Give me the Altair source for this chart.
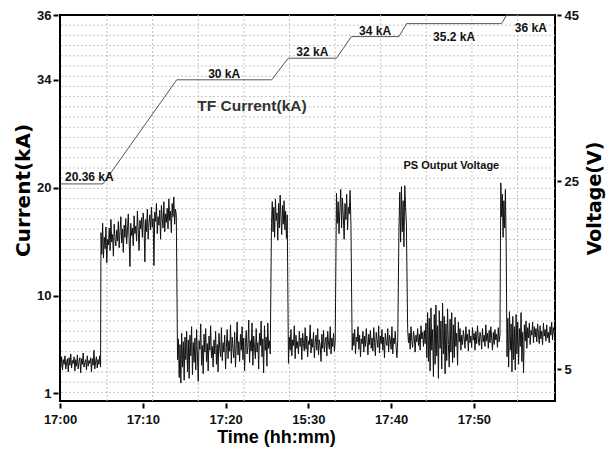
import altair as alt
import pandas as pd
import numpy as np

# ---------------- data ----------------
# time in minutes after 17:00
xtick_values = [0, 10, 20, 30, 40, 50]
xtick_labels = ["17:00", "17:10", "17:20", "15:30", "17:40", "17:50"]
ytick_values = [1, 10, 20, 30, 36]
ytick_labels = ["1", "10", "20", "34", "36"]
vtick_values = [5, 25, 45]

# TF current staircase (kA)
tf_time = [0.0, 5.19, 14.1, 25.57, 27.57, 33.4, 35.2, 40.94, 41.87, 53.35, 53.95, 59.8]
tf_current = [20.36, 20.36, 30, 30, 32, 32, 34, 34, 35.2, 35.2, 36, 36]
tf_label_text = ["20.36 kA", "30 kA", "32 kA", "34 kA", "35.2 kA", "36 kA"]
tf_label_side = ["first", "above", "above", "above", "below", "below"]

# PS output voltage, sampled segments (values in 0.1 V)
seg_A = [58,52,63,49,60,55,64,50,57,61,47,62,54,66,51,59,56,63,48,60,53,65,50,58,62,46,61,55,67,52,
         57,60,49,64,53,59,56,62,47,61,54,70,50,58,63,51,60,55,64,52]
seg_B = [195,172,205,168,190,178,201,163,188,182,
         200,176,209,185,193,170,204,188,181,198,
         186,207,179,196,212,184,199,174,203,190,
         210,183,197,215,188,159,205,192,200,181,
         213,194,202,186,218,197,176,208,199,211,
         190,216,203,164,209,196,220,188,205,214,
         198,222,201,210,160,217,207,226,194,212,
         203,219,188,224,210,200,228,196,215,206,
         221,199,231,208,218,195,226,212,233,204,220,214]
seg_C = [60,82,41,76,35,88,52,79,38,84,60,
         90,47,81,40,86,64,95,44,78,57,83,
         49,92,66,37,80,71,98,54,75,45,87,
         68,93,58,77,48,85,70,96,62,74,52,
         81,66,90,55,76,47,88,72,63,94,59,
         78,68,86,50,73,92,61,80,69,97,56,
         84,71,62,89,52,76,100,65,79,58,87,
         70,95,60,83,48,77,91,66,74,102,57,
         80,69,99,54,85,73,61,93,68,78,50,
         88,75,101,63,82,46,96,70,84,53,99,72,80,66]
seg_D = [205,228,196,222,190,231,208,216,187,226,200,235,211,193,224,204,229,198,218,189,214]
seg_E = [56,84,70,92,64,81,75,96,61,86,72,79,66,90,74,83,60,88,77,69,
         94,71,85,63,80,76,97,67,82,73,89,62,78,86,70,93,65,81,75,58,
         87,72,91,68,79,84,64,90,76,71,95,66,83,74,88,69,80]
seg_F = [237,205,228,194,219,241,200,232,213,188,226,209,236,198,222,215,240,203]
seg_G = [70,88,75,92,66,84,79,95,71,86,63,82,77,90,68,85,74,93,80,65,
         87,76,91,72,83,69,94,78,64,89,81,73,96,67,85,77,92,70,84,62,
         88,79,75,93,68,86,81,71,95,66,83,77,90,74,62,80]
seg_H = [200,238,185,244,196,229,180,245,222,203]
seg_I = [92,78,88,71,95,80,73,90,84,68,86,
         79,93,75,87,70,96,82,89,74,91,77,
         99,62,110,58,104,48,115,70,92,42,108,
         55,118,64,96,40,112,72,101,50,120,66,
         106,45,98,59,114,76,52,103,68,110,57,
         97,62,105,74,88,54,100,79,93,70,86,
         76,91,83,72,95,80,87,69,92,78,85,
         73,94,81,88,70,90,77,96,82,75,89,
         84,71,93,79,86,74,97,80,88,72,91,
         78,95,83,70,89,76,92,81,87,73,94,79,86]
seg_J = [248,212,236,190,229,200,241,184]
seg_K = [63,104,52,111,70,98,47,106,60,95,49,
         108,66,100,55,93,74,110,58,89,46,97,
         80,101,72,94,83,99,76,91,86,100,78,95,
         84,93,79,98,87,77,96,82,90,76,99,85,
         92,80,97,83,89,78,95,86,100,81,94,88]

seg_start = [0.0, 4.95, 14.2, 25.55, 27.6, 33.4, 35.3, 40.95, 42.0, 53.25, 54.0]
seg_end = [4.9, 14.05, 25.4, 27.45, 33.25, 35.15, 40.8, 41.85, 53.15, 53.9, 59.7]
seg_values = [seg_A, seg_B, seg_C, seg_D, seg_E, seg_F, seg_G, seg_H, seg_I, seg_J, seg_K]

# ---------------- tables ----------------
v_time, v_val = [], []
for s, e, vals in zip(seg_start, seg_end, seg_values):
    v_time.extend(np.linspace(s, e, len(vals)).tolist())
    v_val.extend([v / 10.0 for v in vals])
volt_df = pd.DataFrame({"time": v_time, "volt": v_val})

tf_df = pd.DataFrame({"time": tf_time, "current": tf_current})
lab_df = pd.DataFrame({
    "start": tf_time[0::2], "end": tf_time[1::2], "level": tf_current[0::2],
    "text": tf_label_text, "side": tf_label_side,
})
note_df = pd.DataFrame({"text": ["TF Current(kA)"], "time": [23.19], "current": [27.57]})
ps_df = pd.DataFrame({"text": ["PS Output Voltage"], "time": [47.28], "volt": [26.8]})

hgrid_df = pd.DataFrame({"g": [36 - 0.9444 * k for k in range(1, 38)]})
vgrid_df = pd.DataFrame({"g": [5.68 + 5.51 * k for k in range(10)]})


def label_expr(values, labels):
    parts = [f"datum.value == {v} ? '{l}'" for v, l in zip(values, labels)]
    return " : ".join(parts) + " : ''"


W, H = 495, 386
xscale = alt.Scale(domain=[0, 59.8], nice=False, zero=False)
lscale = alt.Scale(domain=[0.26, 36], nice=False, zero=False)
vscale = alt.Scale(domain=[1.6, 5, 25, 45], range=[386, 354, 166, 0], nice=False, zero=False)

BOLD = "Liberation Sans"

x_axis = alt.Axis(
    values=xtick_values, labelExpr=label_expr(xtick_values, xtick_labels), orient="bottom",
    title="Time (hh:mm)", grid=False, domain=False, tickColor="black", tickWidth=2,
    tickSize=5, offset=2, labelPadding=5, labelFont=BOLD, labelFontWeight="bold",
    labelFontSize=13, labelColor="#111", labelFlush=False,
    titleFont=BOLD, titleFontSize=18, titleFontWeight="bold", titleColor="#000",
    titleX=216, titleY=34, titleBaseline="middle", titleAlign="center",
)
l_axis = alt.Axis(
    values=ytick_values, labelExpr=label_expr(ytick_values, ytick_labels), orient="left",
    title="Current(kA)", grid=False, domain=False, tickColor="black", tickWidth=2,
    tickSize=5, offset=2, labelPadding=2, labelFont=BOLD, labelFontWeight="bold",
    labelFontSize=13, labelColor="#111", labelFlush=False,
    titleFont="DejaVu Sans", titleFontSize=20, titleFontWeight="bold", titleColor="#000",
    titleAngle=270, titleX=-35, titleY=175, titleBaseline="middle", titleAlign="center",
)
r_axis = alt.Axis(
    values=vtick_values, orient="right",
    title="Voltage(V)", grid=False, domain=False, tickColor="black", tickWidth=2,
    tickSize=4, offset=2, labelPadding=3, labelFont=BOLD, labelFontWeight="bold",
    labelFontSize=13, labelColor="#111", labelFlush=False,
    titleFont="DejaVu Sans", titleFontSize=19, titleFontWeight="bold", titleColor="#000",
    titleAngle=270, titleX=37, titleY=183, titleBaseline="middle", titleAlign="center",
)

X = lambda f: alt.X(f, scale=xscale, axis=x_axis)

grid_style = dict(color="#c4c4c4", strokeWidth=1, strokeDash=[2, 2])
hgrid = alt.Chart(hgrid_df).mark_rule(**grid_style).encode(
    y=alt.Y("g:Q", scale=lscale, axis=None))
vgrid = alt.Chart(vgrid_df).mark_rule(**grid_style).encode(x=X("g:Q"))

tf_line = alt.Chart(tf_df).mark_line(color="#555", strokeWidth=1).encode(
    x=X("time:Q"),
    y=alt.Y("current:Q", scale=lscale, axis=l_axis),
)

txt = dict(font=BOLD, fontWeight="bold", fontSize=12, color="#111", baseline="middle")
lab_first = alt.Chart(lab_df).transform_filter("datum.side == 'first'").mark_text(
    align="left", dx=5, dy=-7, **txt).encode(
    x=X("start:Q"),
    y=alt.Y("level:Q", scale=lscale, axis=None), text="text:N")
lab_above = alt.Chart(lab_df).transform_filter("datum.side == 'above'").transform_calculate(
    mid="(datum.start + datum.end) / 2").mark_text(align="center", dy=-6, **txt).encode(
    x=X("mid:Q"),
    y=alt.Y("level:Q", scale=lscale, axis=None), text="text:N")
lab_below = alt.Chart(lab_df).transform_filter("datum.side == 'below'").transform_calculate(
    mid="(datum.start + datum.end) / 2").mark_text(align="center", dy=13, **txt).encode(
    x=X("mid:Q"),
    y=alt.Y("level:Q", scale=lscale, axis=None), text="text:N")
note = alt.Chart(note_df).mark_text(
    font=BOLD, fontWeight="bold", fontSize=15.5, color="#333", baseline="middle", align="center"
).encode(
    x=X("time:Q"),
    y=alt.Y("current:Q", scale=lscale, axis=None), text="text:N")

volt_line = alt.Chart(volt_df).mark_line(color="#111", strokeWidth=1).encode(
    x=X("time:Q"),
    y=alt.Y("volt:Q", scale=vscale, axis=r_axis),
)
ps_note = alt.Chart(ps_df).mark_text(
    font=BOLD, fontWeight="bold", fontSize=11, color="#111", baseline="middle", align="center"
).encode(
    x=X("time:Q"),
    y=alt.Y("volt:Q", scale=vscale, axis=None), text="text:N")

chart = alt.layer(
    hgrid, vgrid, tf_line, volt_line, lab_first, lab_above, lab_below, note, ps_note
).resolve_scale(y="independent").properties(
    width=W, height=H,
    autosize=alt.AutoSizeParams(type="none"),
    padding={"left": 52, "top": 7, "right": 51, "bottom": 50},
    background="white",
).configure_view(stroke="black", strokeWidth=2)

chart.save("out.html", embed_options={"renderer": "svg", "actions": False})
